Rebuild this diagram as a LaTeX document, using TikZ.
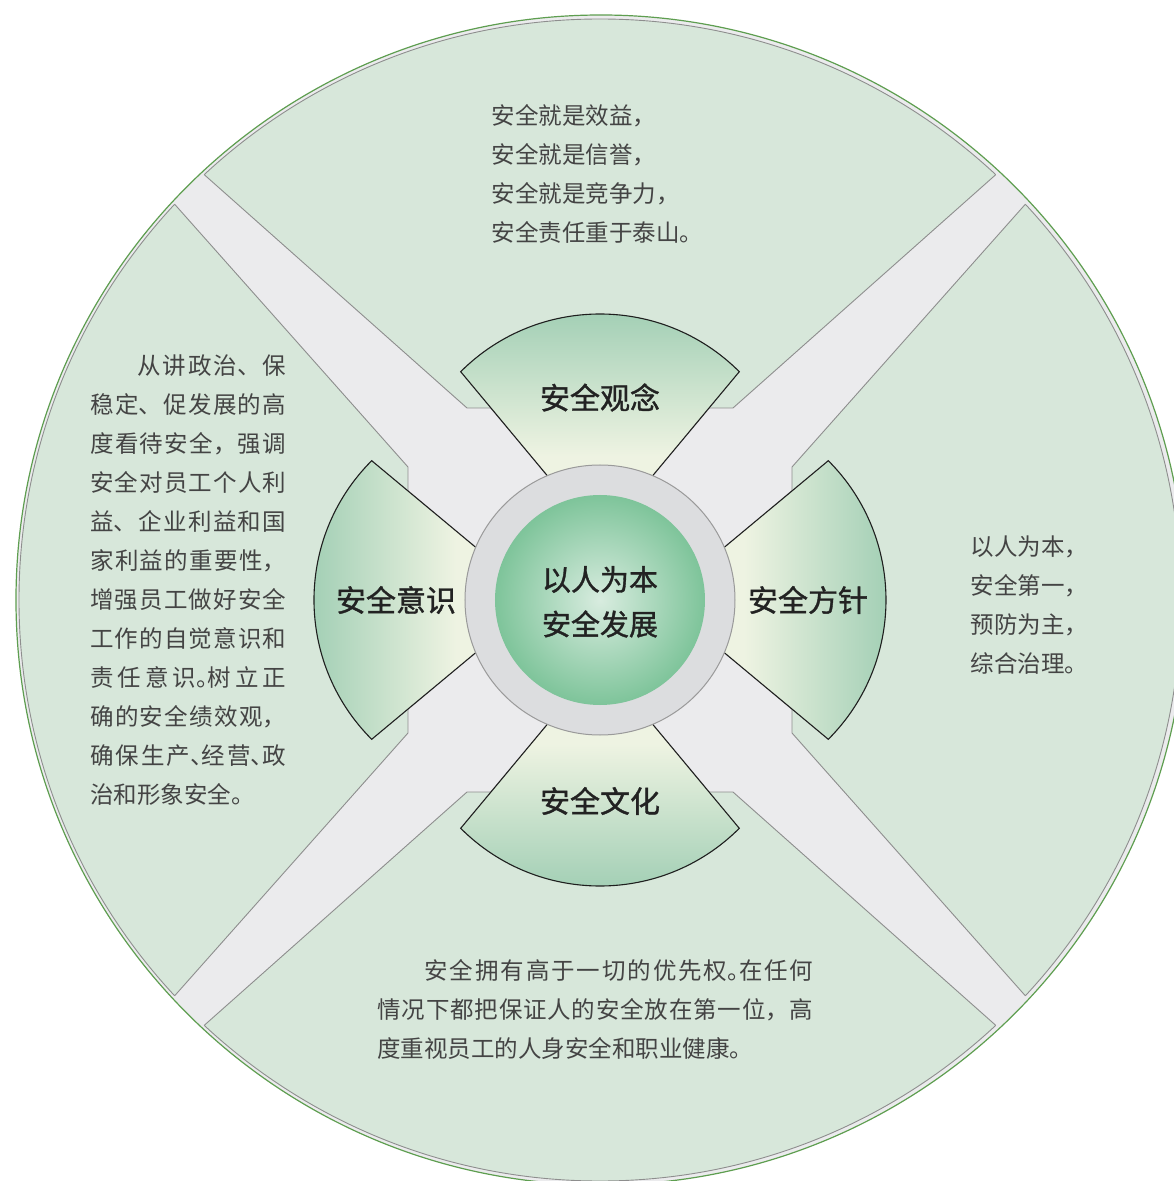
\documentclass[tikz,border=0pt]{standalone}
\usepackage{fontspec}
\setmainfont{Noto Sans CJK SC}
\newfontfamily\labelfont[FakeBold=1.2]{Noto Sans CJK SC}
\XeTeXlinebreaklocale "zh"
\XeTeXlinebreakskip=0pt plus 3pt
\definecolor{bandgray}{HTML}{EBEBED}
\definecolor{regionfill}{HTML}{D7E7DA}
\definecolor{regionline}{HTML}{8E8E8E}
\definecolor{circgreen}{HTML}{5E9E50}
\definecolor{ringfill}{HTML}{DCDDDF}
\definecolor{ringline}{HTML}{9A9A9A}
\definecolor{coreout}{HTML}{7EC49A}
\definecolor{corein}{HTML}{D8ECDF}
\definecolor{petalout}{HTML}{9ACBB0}
\definecolor{petalin}{HTML}{EEF3E2}
\definecolor{petalline}{HTML}{1E1E1E}
\definecolor{bodytext}{HTML}{444444}
\definecolor{labeltext}{HTML}{222222}
\pgfdeclareverticalshading{petalsh}{100bp}{color(0bp)=(petalin); color(42bp)=(petalin); color(75bp)=(petalout); color(100bp)=(petalout)}
\tikzset{
  regionstyle/.style={fill=regionfill, draw=regionline, line width=0.9pt},
  petalstyle/.style={shade, shading=petalsh, draw=petalline, line width=1.1pt},
  bodystyle/.style={inner sep=0pt, text=bodytext, font=\fontsize{23.5pt}{39pt}\selectfont},
  labelstyle/.style={inner sep=0pt, text=labeltext, font=\labelfont\fontsize{30pt}{36pt}\selectfont},
  corestyle/.style={inner sep=0pt, text=labeltext, font=\labelfont\fontsize{29pt}{34pt}\selectfont},
}
\begin{document}
\begin{tikzpicture}[x=1pt,y=1pt]
\useasboundingbox (-600,-581) rectangle (573,600);
% outer disc
\filldraw[fill=bandgray, draw=circgreen, line width=1.2pt] (1,0) circle (585);
% four quadrant regions
\foreach \a in {0,90,180,270}{
  \begin{scope}[rotate=\a]
    \begin{scope}
      \clip (0,0) circle (581);
      \path[regionstyle] (-651,652) -- (-133,192) -- (133,192) -- (651,652) -- (651,900) -- (-651,900) -- cycle;
    \end{scope}
    \begin{scope}
      \clip (-651,652) -- (-133,192) -- (133,192) -- (651,652) -- (651,900) -- (-651,900) -- cycle;
      \draw[draw=regionline, line width=0.9pt] (0,0) circle (581);
    \end{scope}
  \end{scope}
}
% petals
\foreach \a in {0,90,180,270}{
  \begin{scope}[rotate=\a]
    \path[petalstyle, shading angle=\a] (0,61) -- (-139.3,228.3) arc[start angle=135, end angle=45, radius=197] -- cycle;
  \end{scope}
}
% centre ring and core
\filldraw[fill=ringfill, draw=ringline, line width=1pt] (0,0) circle (135);
\shade[inner color=corein, outer color=coreout] (0,0) circle (105);
% centre text
\node[corestyle] (core1) at (0,20.5) {以人为本};
\node[corestyle] (core2) at (0,-24) {安全发展};
% petal labels
\node[labelstyle] (ltop) at (0,202.5) {安全观念};
\node[labelstyle] (lleft) at (-204,0) {安全意识};
\node[labelstyle] (lbot) at (0,-201) {安全文化};
\node[labelstyle] (lright) at (208,0) {安全方针};
% body texts
\node[bodystyle, anchor=base west] (ttop) at (-108.5,475.3) {\parbox[t]{300pt}{安全就是效益，\\安全就是信誉，\\安全就是竞争力，\\安全责任重于泰山。}};
\node[bodystyle, anchor=base west] (tright) at (370.5,45) {\parbox[t]{150pt}{以人为本，\\安全第一，\\预防为主，\\综合治理。}};
\node[bodystyle, anchor=base west] (tleft) at (-510,225) {\parbox[t]{196pt}{\hspace*{47pt}从讲政治、保\linebreak 稳定、促发展的高\linebreak 度看待安全，强调\linebreak 安全对员工个人利\linebreak 益、企业利益和国\linebreak 家利益的重要性，\linebreak 增强员工做好安全\linebreak 工作的自觉意识和\linebreak 责任意识\makebox[11.75pt][l]{。}树立正\linebreak 确的安全绩效观，\linebreak 确保生产\makebox[11.75pt][l]{、}经营\makebox[11.75pt][l]{、}政\linebreak 治和形象安全。}};
\node[bodystyle, anchor=base west] (tbot) at (-222.7,-379) {\parbox[t]{436pt}{\hspace*{47pt}安全拥有高于一切的优先权\makebox[11.75pt][l]{。}在任何\linebreak 情况下都把保证人的安全放在第一位，高\linebreak 度重视员工的人身安全和职业健康。}};
\end{tikzpicture}
\end{document}
